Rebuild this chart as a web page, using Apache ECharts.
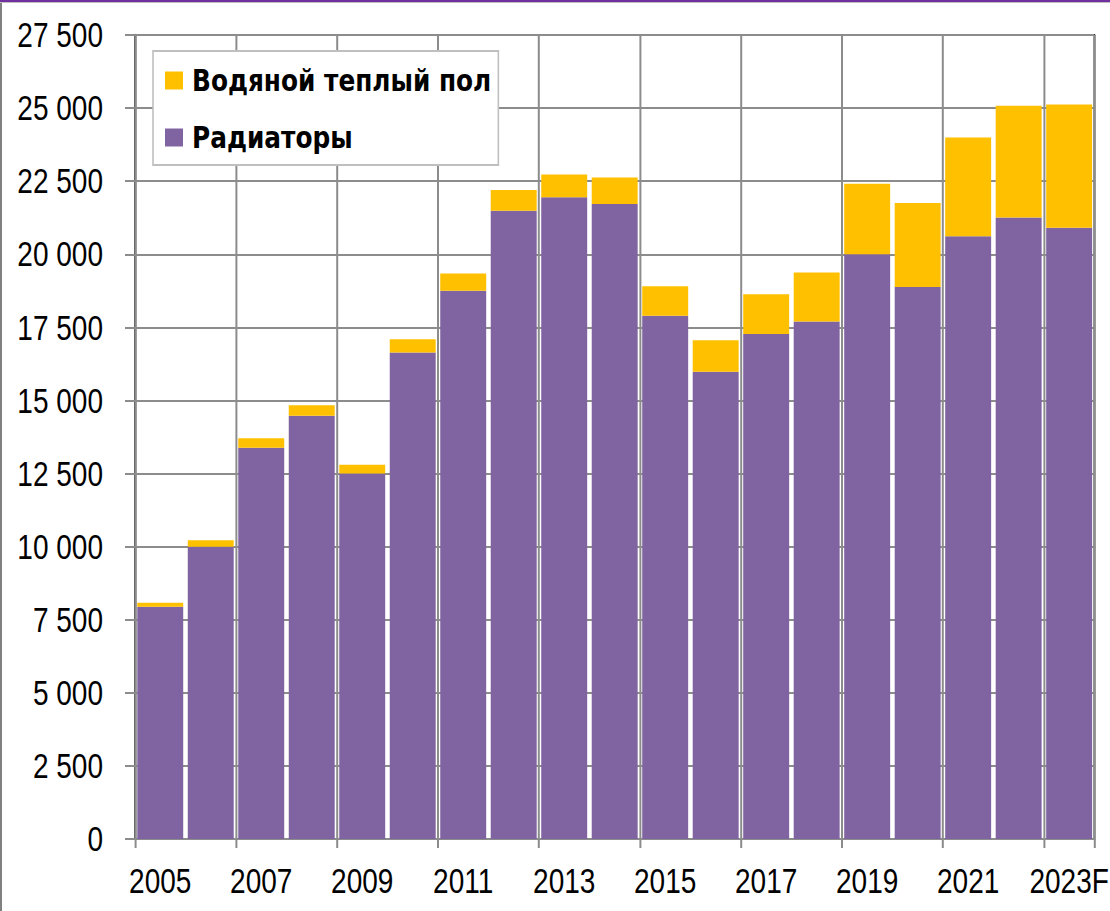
<!DOCTYPE html>
<html>
<head>
<meta charset="utf-8">
<script src="https://cdn.jsdelivr.net/npm/echarts@6/dist/echarts.min.js"></script>
<style>
  html, body { margin: 0; padding: 0; background: #fff; overflow: hidden; }
  #wrap { width: 1110px; height: 911px; overflow: hidden; }
  /* узкий шрифт как в оригинале: рисуем шире и сжимаем по горизонтали */
  #chart { width: 1387.5px; height: 911px; transform: scaleX(0.8); transform-origin: 0 0; }
</style>
</head>
<body>
<div id="wrap"><div id="chart"></div></div>
<script>
var years = ['2005','2006','2007','2008','2009','2010','2011','2012','2013','2014',
             '2015','2016','2017','2018','2019','2020','2021','2022','2023F'];
// радиаторы
var radiators = [7940, 10000, 13380, 14480, 12500, 16640, 18750, 21490, 21950, 21720,
                 17900, 15980, 17270, 17700, 20000, 18880, 20620, 21260, 20910];
// водяной теплый пол
var floorHeat = [140, 220, 330, 360, 300, 450, 590, 710, 780, 910,
                 1010, 1080, 1360, 1680, 2410, 2870, 3370, 3820, 4210];

var k = 0.8; // горизонтальное сжатие
var fontMain = "'Liberation Sans', Arial, sans-serif";
var gridGray = '#8c8c8c';

var chart = echarts.init(document.getElementById('chart'), null, { renderer : 'svg' });

var option = {
  animation : false,
  backgroundColor : '#fff',
  grid : {
    left : 135 / k,
    right : 16 / k,
    top : 35,
    bottom : 72,
    outerBoundsMode : 'none',
    show : true,
    borderColor : '#000',
    borderWidth : 2,
    backgroundColor : 'transparent'
  },
  legend : {
    data : ['Водяной теплый пол', 'Радиаторы'],
    orient : 'vertical',
    left : 153 / k,
    top : 51,
    backgroundColor : '#fff',
    borderColor : '#bfbfbf',
    borderWidth : 2,
    padding : [14, 7 / k, 12, 12 / k],
    itemWidth : 18 / k,
    itemHeight : 18,
    itemGap : 26,
    icon : 'rect',
    textStyle : {
      fontFamily : "'DejaVu Sans', sans-serif",
      fontWeight : 'bold',
      fontSize : 31,
      lineHeight : 30,
      color : '#000',
      padding : [0, 0, 0, 5 / k]
    }
  },
  xAxis : {
    type : 'category',
    data : years,
    boundaryGap : true,
    axisLine : { lineStyle : { color : gridGray, width : 2 } },
    axisTick : { show : true, length : 9, lineStyle : { color : gridGray, width : 2 / k } },
    splitLine : { show : true, lineStyle : { color : gridGray, width : 2 / k } },
    axisLabel : {
      interval : 1,
      margin : 24,
      fontFamily : fontMain,
      fontSize : 35,
      color : '#000'
    }
  },
  yAxis : {
    type : 'value',
    min : 0,
    max : 27500,
    interval : 2500,
    axisLine : { show : true, lineStyle : { color : gridGray, width : 2 / k } },
    axisTick : { show : true, length : 10 / k, lineStyle : { color : gridGray, width : 2 } },
    splitLine : { show : true, lineStyle : { color : gridGray, width : 2 } },
    axisLabel : {
      margin : 32 / k,
      fontFamily : fontMain,
      fontSize : 35,
      color : '#000',
      formatter : function (v) {
        return String(v).replace(/\B(?=(\d{3})+(?!\d))/g, ' ');
      }
    }
  },
  series : [{
    name : 'Радиаторы',
    type : 'bar',
    stack : 'total',
    barCategoryGap : '9%',
    itemStyle : { color : '#8064A2' },
    data : radiators
  }, {
    name : 'Водяной теплый пол',
    type : 'bar',
    stack : 'total',
    barCategoryGap : '9%',
    itemStyle : { color : '#FFC000' },
    data : floorHeat
  }],
  graphic : [{
    type : 'rect',
    shape : { x : 0, y : 0, width : 1110 / k, height : 2 },
    style : { fill : '#7030A0' }
  }, {
    type : 'rect',
    shape : { x : 0, y : 2, width : 1110 / k, height : 1 },
    style : { fill : '#bfbfbf' }
  }, {
    type : 'rect',
    shape : { x : 0, y : 3, width : 2 / k, height : 908 },
    style : { fill : '#808080' }
  }]
};

chart.setOption(option);
</script>
</body>
</html>
